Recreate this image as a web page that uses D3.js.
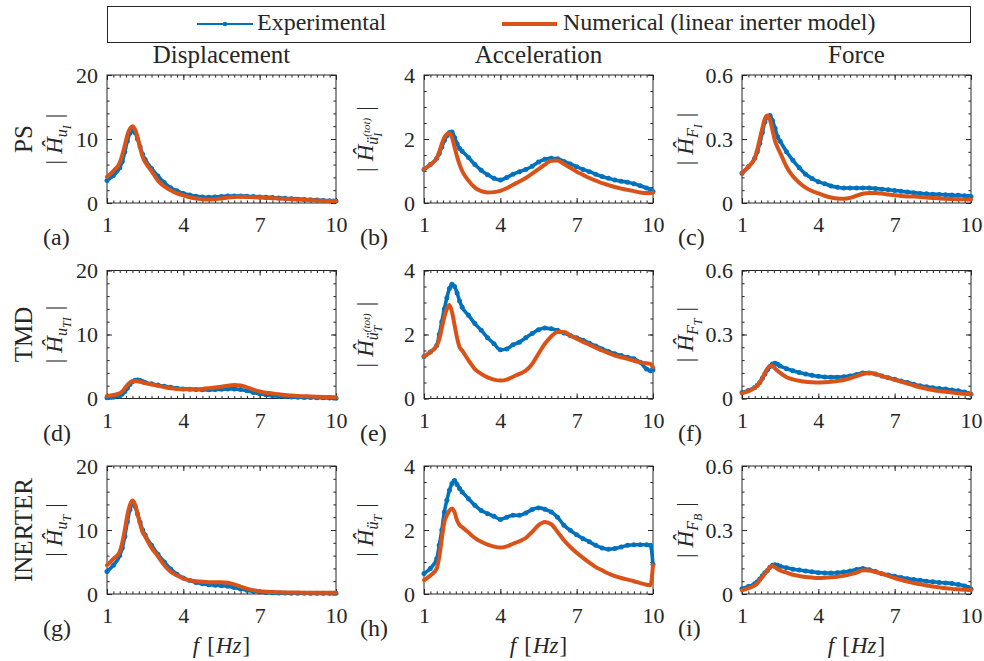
<!DOCTYPE html>
<html>
<head>
<meta charset="utf-8">
<script src="https://cdn.jsdelivr.net/npm/d3@7"></script>
<style>
  html, body { margin: 0; padding: 0; background: #fff; }
  svg, svg text { font-family: "Liberation Serif", "Times New Roman", serif; }
  svg { display: block; }
</style>
</head>
<body>
<svg id="chart" width="984" height="661"></svg>
<script>
// Frequency grid [Hz] shared by every response curve
const freq = [1, 1.25, 1.5, 1.6, 1.7, 1.8, 1.9, 2.0, 2.1, 2.2, 2.3, 2.4, 2.5,
  2.75, 3, 3.25, 3.5, 3.75, 4, 4.25, 4.5, 4.75, 5, 5.25, 5.5, 5.75, 6, 6.25, 6.5, 6.75,
  7, 7.25, 7.5, 7.75, 8, 8.25, 8.5, 8.75, 9, 9.25, 9.5, 9.75, 9.9, 10];

// PS configuration
const psDispExp = [3.5, 4.3, 5.5, 6.5, 8.0, 9.7, 10.9, 11.3, 11.0, 10.0, 8.8, 7.6, 6.8,
  5.4, 4.2, 3.2, 2.4, 1.9, 1.5, 1.25, 1.05, 0.95, 0.9, 0.95, 1.0, 1.1, 1.1, 1.1, 1.05, 1.0,
  0.95, 0.9, 0.85, 0.8, 0.75, 0.68, 0.6, 0.55, 0.5, 0.45, 0.4, 0.35, 0.32, 0.3];
const psDispNum = [4.1, 5.0, 6.3, 7.5, 9.0, 10.6, 11.6, 12.0, 11.5, 10.3, 8.7, 7.2, 6.4,
  5.0, 3.5, 2.6, 2.0, 1.5, 1.2, 0.9, 0.7, 0.6, 0.55, 0.6, 0.7, 0.85, 0.95, 0.97, 0.95, 0.9,
  0.85, 0.8, 0.75, 0.7, 0.65, 0.6, 0.55, 0.5, 0.45, 0.4, 0.35, 0.32, 0.3, 0.3];
const psAccExp = [1.05, 1.2, 1.4, 1.55, 1.75, 1.95, 2.1, 2.2, 2.22, 2.05, 1.85, 1.7, 1.62,
  1.42, 1.2, 1.02, 0.88, 0.77, 0.72, 0.8, 0.9, 0.98, 1.05, 1.15, 1.28, 1.37, 1.4, 1.38, 1.3, 1.22,
  1.13, 1.05, 0.98, 0.9, 0.83, 0.77, 0.72, 0.68, 0.65, 0.6, 0.54, 0.47, 0.42, 0.36];
const psAccNum = [1.05, 1.2, 1.4, 1.6, 1.85, 2.05, 2.15, 2.18, 2.05, 1.75, 1.45, 1.2, 1.0,
  0.7, 0.48, 0.37, 0.33, 0.34, 0.38, 0.46, 0.57, 0.67, 0.78, 0.92, 1.06, 1.2, 1.32, 1.33, 1.22, 1.1,
  0.98, 0.88, 0.78, 0.7, 0.62, 0.56, 0.5, 0.45, 0.41, 0.37, 0.33, 0.31, 0.31, 0.33];
const psForceExp = [0.14, 0.17, 0.21, 0.24, 0.28, 0.33, 0.38, 0.405, 0.41, 0.385, 0.35, 0.31, 0.29,
  0.24, 0.2, 0.165, 0.135, 0.115, 0.1, 0.09, 0.08, 0.074, 0.07, 0.07, 0.07, 0.07, 0.07, 0.068, 0.065, 0.062,
  0.059, 0.055, 0.052, 0.048, 0.045, 0.043, 0.041, 0.04, 0.039, 0.037, 0.036, 0.034, 0.032, 0.03];
const psForceNum = [0.14, 0.17, 0.21, 0.25, 0.3, 0.35, 0.395, 0.41, 0.39, 0.34, 0.29, 0.26, 0.235,
  0.17, 0.125, 0.095, 0.072, 0.056, 0.045, 0.034, 0.026, 0.021, 0.02, 0.024, 0.034, 0.043, 0.047, 0.047, 0.044, 0.04,
  0.036, 0.033, 0.031, 0.03, 0.028, 0.026, 0.024, 0.022, 0.02, 0.019, 0.018, 0.017, 0.016, 0.016];

// TMD configuration
const tmdDispExp = [0.1, 0.2, 0.4, 0.7, 1.1, 1.6, 2.2, 2.6, 2.85, 2.9, 2.8, 2.65, 2.5,
  2.3, 2.1, 1.9, 1.75, 1.6, 1.5, 1.45, 1.4, 1.37, 1.35, 1.4, 1.45, 1.5, 1.5, 1.4, 1.2, 0.95,
  0.75, 0.58, 0.45, 0.37, 0.3, 0.25, 0.2, 0.17, 0.15, 0.12, 0.1, 0.07, 0.06, 0.05];
const tmdDispNum = [0.4, 0.55, 0.8, 1.1, 1.6, 2.1, 2.5, 2.7, 2.75, 2.7, 2.6, 2.5, 2.4,
  2.2, 2.0, 1.8, 1.6, 1.5, 1.45, 1.43, 1.45, 1.5, 1.6, 1.72, 1.85, 2.0, 2.1, 2.05, 1.75, 1.4,
  1.1, 0.9, 0.8, 0.65, 0.53, 0.46, 0.4, 0.35, 0.32, 0.28, 0.25, 0.22, 0.21, 0.2];
const tmdAccExp = [1.31, 1.45, 1.66, 2.0, 2.4, 2.8, 3.15, 3.44, 3.57, 3.5, 3.3, 3.05, 2.85,
  2.6, 2.34, 2.13, 1.9, 1.71, 1.52, 1.55, 1.68, 1.76, 1.9, 2.03, 2.15, 2.2, 2.18, 2.13, 2.05, 1.97,
  1.9, 1.82, 1.73, 1.64, 1.55, 1.47, 1.4, 1.34, 1.29, 1.24, 1.13, 0.92, 0.87, 0.9];
const tmdAccNum = [1.31, 1.45, 1.65, 1.85, 2.2, 2.55, 2.8, 2.92, 2.7, 2.3, 1.9, 1.6, 1.5,
  1.19, 0.92, 0.77, 0.66, 0.59, 0.56, 0.59, 0.68, 0.77, 0.87, 1.08, 1.4, 1.71, 1.94, 2.08, 2.08, 1.97,
  1.87, 1.77, 1.68, 1.59, 1.5, 1.42, 1.34, 1.29, 1.24, 1.18, 1.13, 1.1, 1.08, 0.98];
const tmdForceExp = [0.028, 0.038, 0.052, 0.062, 0.075, 0.095, 0.115, 0.135, 0.15, 0.162, 0.165, 0.16, 0.152,
  0.14, 0.13, 0.122, 0.115, 0.109, 0.104, 0.101, 0.1, 0.1, 0.102, 0.106, 0.112, 0.12, 0.12, 0.115, 0.105, 0.097,
  0.09, 0.082, 0.075, 0.067, 0.06, 0.055, 0.05, 0.047, 0.044, 0.04, 0.036, 0.03, 0.024, 0.02];
const tmdForceNum = [0.025, 0.035, 0.05, 0.06, 0.075, 0.095, 0.12, 0.14, 0.152, 0.152, 0.14, 0.13, 0.12,
  0.1, 0.09, 0.083, 0.078, 0.076, 0.075, 0.076, 0.078, 0.082, 0.087, 0.095, 0.105, 0.115, 0.12, 0.115, 0.105, 0.097,
  0.088, 0.079, 0.07, 0.061, 0.053, 0.046, 0.04, 0.035, 0.032, 0.028, 0.025, 0.022, 0.021, 0.02];

// INERTER configuration
const inDispExp = [3.5, 4.5, 6.0, 7.2, 9.0, 11.3, 13.2, 14.2, 13.7, 12.5, 11.2, 10.0, 9.2,
  7.6, 6.2, 5.0, 3.9, 3.1, 2.5, 2.1, 1.8, 1.6, 1.45, 1.38, 1.3, 1.2, 1.0, 0.8, 0.6, 0.42,
  0.3, 0.24, 0.2, 0.17, 0.15, 0.13, 0.12, 0.11, 0.1, 0.1, 0.1, 0.1, 0.1, 0.1];
const inDispNum = [4.5, 5.5, 6.6, 8.0, 10.0, 12.3, 13.9, 14.6, 14.0, 12.6, 11.0, 9.7, 9.0,
  7.2, 5.9, 4.5, 3.5, 2.9, 2.4, 2.15, 2.0, 1.9, 1.85, 1.85, 1.85, 1.75, 1.5, 1.15, 0.85, 0.6,
  0.45, 0.37, 0.3, 0.27, 0.25, 0.23, 0.22, 0.21, 0.2, 0.2, 0.2, 0.2, 0.2, 0.2];
const inAccExp = [0.64, 0.8, 1.1, 1.52, 2.0, 2.56, 2.93, 3.24, 3.45, 3.55, 3.42, 3.3, 3.19,
  2.98, 2.77, 2.61, 2.51, 2.43, 2.33, 2.4, 2.46, 2.46, 2.53, 2.64, 2.69, 2.65, 2.56, 2.4, 2.15, 1.99,
  1.85, 1.73, 1.63, 1.52, 1.44, 1.4, 1.42, 1.47, 1.52, 1.54, 1.54, 1.54, 1.52, 0.92];
const inAccNum = [0.43, 0.58, 0.79, 1.16, 1.73, 2.25, 2.46, 2.61, 2.67, 2.56, 2.3, 2.15, 2.09,
  1.92, 1.75, 1.63, 1.54, 1.48, 1.45, 1.49, 1.57, 1.65, 1.75, 1.94, 2.15, 2.25, 2.18, 1.94, 1.68, 1.47,
  1.29, 1.13, 0.98, 0.84, 0.74, 0.64, 0.56, 0.5, 0.45, 0.4, 0.34, 0.29, 0.27, 0.9];
const inForceExp = [0.025, 0.035, 0.048, 0.058, 0.07, 0.085, 0.1, 0.11, 0.125, 0.135, 0.137, 0.135, 0.13,
  0.123, 0.116, 0.112, 0.108, 0.104, 0.1, 0.099, 0.098, 0.1, 0.103, 0.108, 0.115, 0.119, 0.114, 0.105, 0.095, 0.089,
  0.083, 0.077, 0.072, 0.068, 0.064, 0.06, 0.057, 0.054, 0.052, 0.049, 0.045, 0.038, 0.03, 0.022];
const inForceNum = [0.017, 0.027, 0.04, 0.05, 0.065, 0.08, 0.097, 0.11, 0.125, 0.131, 0.125, 0.117, 0.11,
  0.1, 0.09, 0.084, 0.08, 0.077, 0.075, 0.076, 0.078, 0.081, 0.085, 0.092, 0.1, 0.111, 0.11, 0.103, 0.095, 0.085,
  0.075, 0.066, 0.058, 0.051, 0.045, 0.04, 0.035, 0.031, 0.027, 0.024, 0.022, 0.02, 0.019, 0.018];

// Labels and ticks
const rowNames = ["PS", "TMD", "INERTER"];
const colNames = ["Displacement", "Acceleration", "Force"];
const panelTags = [["(a)", "(b)", "(c)"], ["(d)", "(e)", "(f)"], ["(g)", "(h)", "(i)"]];
const xTicks = [1, 4, 7, 10];
const yMaxByCol = [20, 4, 0.6];
const yTicksByCol = [[0, 10, 20], [0, 2, 4], [0, 0.3, 0.6]];
const yMinorStepByCol = [2, 0.5, 0.06];
const legendLabels = ["Experimental", "Numerical (linear inerter model)"];
// response subscripts: variable, index, optional superscript
const ySubs = [
  [{v: "u", i: "I"}, {v: "ü", i: "I", s: "(tot)"}, {v: "F", i: "I"}],
  [{v: "u", i: "TI"}, {v: "ü", i: "T", s: "(tot)"}, {v: "F", i: "T"}],
  [{v: "u", i: "T"}, {v: "ü", i: "T"}, {v: "F", i: "B"}]
];
const expSeries = [[psDispExp, psAccExp, psForceExp], [tmdDispExp, tmdAccExp, tmdForceExp], [inDispExp, inAccExp, inForceExp]];
const numSeries = [[psDispNum, psAccNum, psForceNum], [tmdDispNum, tmdAccNum, tmdForceNum], [inDispNum, inAccNum, inForceNum]];

// Layout
const colLeft = [107, 424, 742];
const rowTop = [75, 270.5, 466];
const plotW = 229, plotH = 128;
const ink = "#262626";
const expColor = "#0072BD", numColor = "#D95319";
const serif = "'Liberation Serif', 'Times New Roman', serif";

const svg = d3.select("#chart");
svg.append("rect").attr("width", 984).attr("height", 661).attr("fill", "#fff");

function styleAxis(sel) {
  sel.attr("font-family", serif).attr("font-size", 22);
  sel.select(".domain").remove();
  sel.selectAll(".tick line").attr("stroke", ink).attr("stroke-width", 1);
  sel.selectAll("text").attr("fill", ink);
}

for (let r = 0; r < 3; r++) {
  for (let c = 0; c < 3; c++) {
    const x0 = colLeft[c], y0 = rowTop[r];
    const g = svg.append("g").attr("transform", `translate(${x0},${y0})`);
    const x = d3.scaleLinear().domain([1, 10]).range([0, plotW]);
    const y = d3.scaleLinear().domain([0, yMaxByCol[c]]).range([plotH, 0]);
    const xMinor = d3.range(0, 37).map(k => 1 + k * 0.25);
    const nMinorY = Math.round(yMaxByCol[c] / yMinorStepByCol[c]);
    const yMinor = d3.range(0, nMinorY + 1).map(k => k * yMinorStepByCol[c]);

    // minor ticks (all sides, pointing inwards)
    g.append("g").attr("transform", `translate(0,${plotH})`)
      .call(d3.axisBottom(x).tickValues(xMinor).tickSize(-2.6).tickFormat("")).call(styleAxis);
    g.append("g").call(d3.axisTop(x).tickValues(xMinor).tickSize(-2.6).tickFormat("")).call(styleAxis);
    g.append("g").call(d3.axisLeft(y).tickValues(yMinor).tickSize(-2.6).tickFormat("")).call(styleAxis);
    g.append("g").attr("transform", `translate(${plotW},0)`)
      .call(d3.axisRight(y).tickValues(yMinor).tickSize(-2.6).tickFormat("")).call(styleAxis);

    // major ticks with labels
    const bx = g.append("g").attr("transform", `translate(0,${plotH})`)
      .call(d3.axisBottom(x).tickValues(xTicks).tickSize(-5).tickFormat(d3.format("d"))).call(styleAxis);
    bx.selectAll("text").attr("dy", null).attr("y", 29);
    g.append("g").call(d3.axisTop(x).tickValues(xTicks).tickSize(-5).tickFormat("")).call(styleAxis);
    const ly = g.append("g")
      .call(d3.axisLeft(y).tickValues(yTicksByCol[c]).tickSize(-5).tickPadding(9).tickFormat(d => String(d))).call(styleAxis);
    ly.selectAll("text").attr("dy", "0.33em");
    g.append("g").attr("transform", `translate(${plotW},0)`)
      .call(d3.axisRight(y).tickValues(yTicksByCol[c]).tickSize(-5).tickFormat("")).call(styleAxis);

    // axes box
    g.append("rect").attr("x", 0).attr("y", 0).attr("width", plotW).attr("height", plotH)
      .attr("fill", "none").attr("stroke", ink).attr("stroke-width", 1);

    const line = d3.line().x(d => x(d[0])).y(d => y(d[1])).curve(d3.curveMonotoneX);
    const expData = d3.zip(freq, expSeries[r][c]);
    const numData = d3.zip(freq, numSeries[r][c]);

    // experimental: line with dot markers
    g.append("path").datum(expData).attr("d", line)
      .attr("fill", "none").attr("stroke", expColor).attr("stroke-width", 3.6)
      .attr("stroke-linejoin", "round").attr("stroke-linecap", "round");
    g.append("g").selectAll("circle").data(expData).join("circle")
      .attr("cx", d => x(d[0])).attr("cy", d => y(d[1])).attr("r", 2.5).attr("fill", expColor);

    // numerical model
    g.append("path").datum(numData).attr("d", line)
      .attr("fill", "none").attr("stroke", numColor).attr("stroke-width", 4)
      .attr("stroke-linejoin", "round").attr("stroke-linecap", "round");

    // panel tag
    svg.append("text").attr("x", x0 - 64).attr("y", y0 + plotH + 42)
      .attr("fill", ink).attr("font-family", serif).attr("font-size", 24).text(panelTags[r][c]);

    // y label |Ĥ_sub|
    const labelX = [62, 373, 693][c];
    const spec = ySubs[r][c];
    const t = svg.append("text")
      .attr("transform", `translate(${labelX},${y0 + plotH / 2}) rotate(-90)`)
      .attr("text-anchor", "middle").attr("fill", ink).attr("font-family", serif).attr("font-size", 23);
    t.append("tspan").text("|");
    t.append("tspan").attr("dx", 6).style("font-style", "italic").text("Ĥ");
    t.append("tspan").attr("dy", 5).style("font-style", "italic").attr("font-size", 16).text(spec.v);
    const idx = t.append("tspan").attr("dy", 3.5).style("font-style", "italic").attr("font-size", 12).text(spec.i);
    let offset = 8.5;
    if (spec.s) {
      const w = idx.node().getComputedTextLength();
      t.append("tspan").attr("dx", -w).attr("dy", -12).style("font-style", "italic").attr("font-size", 11).text(spec.s);
      offset = -3.5;
    }
    t.append("tspan").attr("dx", 7).attr("dy", -offset).text("|");

    // row name
    if (c === 0) {
      svg.append("text").attr("transform", `translate(32,${y0 + plotH / 2}) rotate(-90)`)
        .attr("text-anchor", "middle").attr("fill", ink).attr("font-family", serif).attr("font-size", 25).text(rowNames[r]);
    }
    // column title
    if (r === 0) {
      svg.append("text").attr("x", x0 + plotW / 2).attr("y", 63)
        .attr("text-anchor", "middle").attr("fill", ink).attr("font-family", serif).attr("font-size", 25).text(colNames[c]);
    }
    // frequency axis label
    if (r === 2) {
      const xl = svg.append("text").attr("x", x0 + plotW / 2).attr("y", 653)
        .attr("text-anchor", "middle").attr("fill", ink).attr("font-family", serif).attr("font-size", 23);
      xl.append("tspan").style("font-style", "italic").text("f");
      xl.append("tspan").attr("dx", 8).text("[");
      xl.append("tspan").attr("dx", 1).style("font-style", "italic").text("Hz");
      xl.append("tspan").attr("dx", 1).text("]");
    }
  }
}

// Legend
const lg = svg.append("g").attr("font-family", serif);
lg.append("rect").attr("x", 107.5).attr("y", 6.5).attr("width", 863).attr("height", 36)
  .attr("fill", "#fff").attr("stroke", ink).attr("stroke-width", 1);
lg.append("line").attr("x1", 197).attr("x2", 253).attr("y1", 24).attr("y2", 24)
  .attr("stroke", expColor).attr("stroke-width", 2);
lg.append("circle").attr("cx", 225).attr("cy", 24).attr("r", 2.3).attr("fill", expColor);
lg.append("text").attr("x", 257).attr("y", 29.5).attr("fill", ink).attr("font-size", 24).text(legendLabels[0]);
lg.append("line").attr("x1", 502).attr("x2", 557).attr("y1", 24).attr("y2", 24)
  .attr("stroke", numColor).attr("stroke-width", 4);
lg.append("text").attr("x", 563).attr("y", 29.5).attr("fill", ink).attr("font-size", 24).text(legendLabels[1]);
</script>
</body>
</html>
